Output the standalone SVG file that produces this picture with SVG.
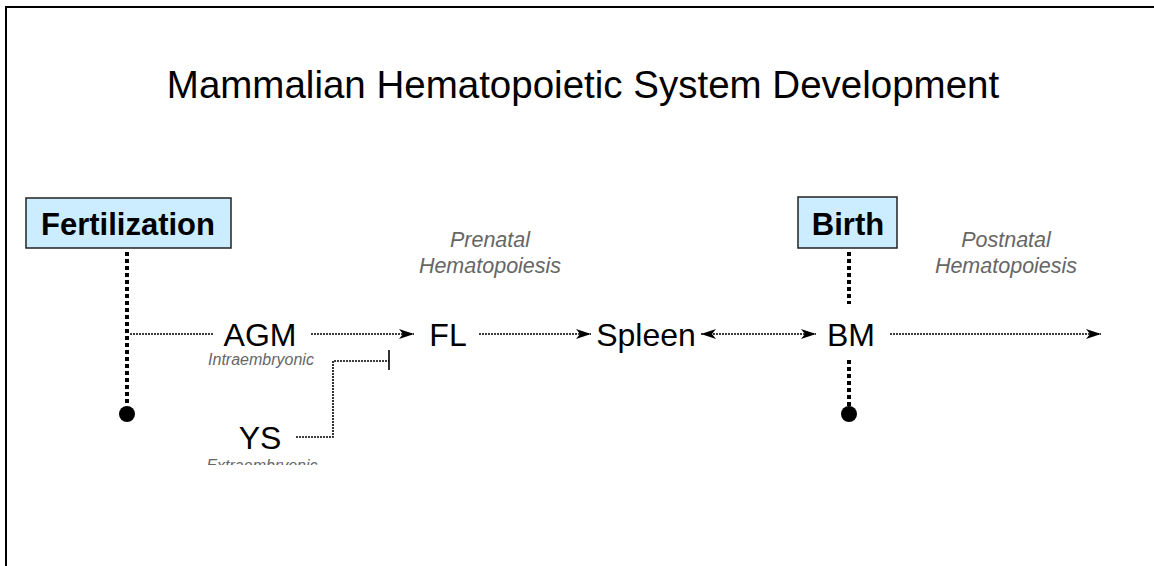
<svg xmlns="http://www.w3.org/2000/svg" width="1154" height="566" viewBox="0 0 1154 566">
<style>
.node{font-family:"Liberation Sans",Arial,sans-serif;font-size:32px;fill:#000;text-anchor:middle}
.box{fill:#CCECFF;stroke:#222;stroke-width:1.5}
.boxt{font-family:"Liberation Sans",Arial,sans-serif;font-size:31px;font-weight:bold;fill:#000;text-anchor:middle}
.note{font-family:"Liberation Sans",Arial,sans-serif;font-style:italic;fill:#666;text-anchor:middle}
.thin{fill:none;stroke:#000;stroke-width:1.6;stroke-dasharray:2 1}
.thick{fill:none;stroke:#000;stroke-width:4;stroke-dasharray:4 3}
</style>
<defs>
<marker id="ah" markerUnits="userSpaceOnUse" markerWidth="16" markerHeight="12" refX="15" refY="5" orient="auto-start-reverse">
<path d="M0,0 L15,5 L0,10 L4,5 Z" fill="#000"/>
</marker>
<clipPath id="clipYS"><rect x="150" y="440" width="250" height="25"/></clipPath>
</defs>
<rect x="0" y="0" width="1154" height="566" fill="#fff"/>
<path d="M6,566 V7 H1154" fill="none" stroke="#000" stroke-width="2"/>
<text x="583" y="98" font-family="Liberation Sans, Arial, sans-serif" font-size="38.5" text-anchor="middle">Mammalian Hematopoietic System Development</text>

<g id="connectors">
<path class="thick" d="M127,252 V406"/>
<circle cx="127" cy="414" r="8" fill="#000"/>
<path class="thin" d="M130,334 H213"/>
<path class="thin" d="M311,334 H414" marker-end="url(#ah)"/>
<path class="thin" d="M296,437 H333 V361 H389"/>
<path d="M389,350 V370" stroke="#000" stroke-width="1.6"/>
<path class="thin" d="M479,334 H591" marker-end="url(#ah)"/>
<path class="thin" d="M701,334 H816" marker-start="url(#ah)" marker-end="url(#ah)"/>
<path class="thick" d="M849,252 V304"/>
<path class="thick" d="M849,360 V406"/>
<circle cx="849" cy="414" r="8" fill="#000"/>
<path class="thin" d="M890,334 H1101" marker-end="url(#ah)"/>
</g>

<g id="fertilization">
<rect class="box" x="26" y="198" width="205" height="50"/>
<text class="boxt" x="128" y="235">Fertilization</text>
</g>
<g id="birth">
<rect class="box" x="798" y="197" width="99" height="51"/>
<text class="boxt" x="848" y="235">Birth</text>
</g>
<g id="prenatal">
<text class="note" x="490" y="247" font-size="21.5">Prenatal</text>
<text class="note" x="490" y="273" font-size="21.5">Hematopoiesis</text>
</g>
<g id="postnatal">
<text class="note" x="1006" y="247" font-size="21.5">Postnatal</text>
<text class="note" x="1006" y="273" font-size="21.5">Hematopoiesis</text>
</g>
<g id="agm">
<text class="node" x="260" y="346">AGM</text>
<text class="note" x="261" y="365" font-size="16">Intraembryonic</text>
</g>
<g id="ys">
<text class="node" x="260" y="449">YS</text>
<text class="note" x="262" y="471" font-size="16" clip-path="url(#clipYS)">Extraembryonic</text>
</g>
<g id="fl">
<text class="node" x="448" y="346">FL</text>
</g>
<g id="spleen">
<text class="node" x="646" y="346">Spleen</text>
</g>
<g id="bm">
<text class="node" x="851" y="346">BM</text>
</g>
</svg>
